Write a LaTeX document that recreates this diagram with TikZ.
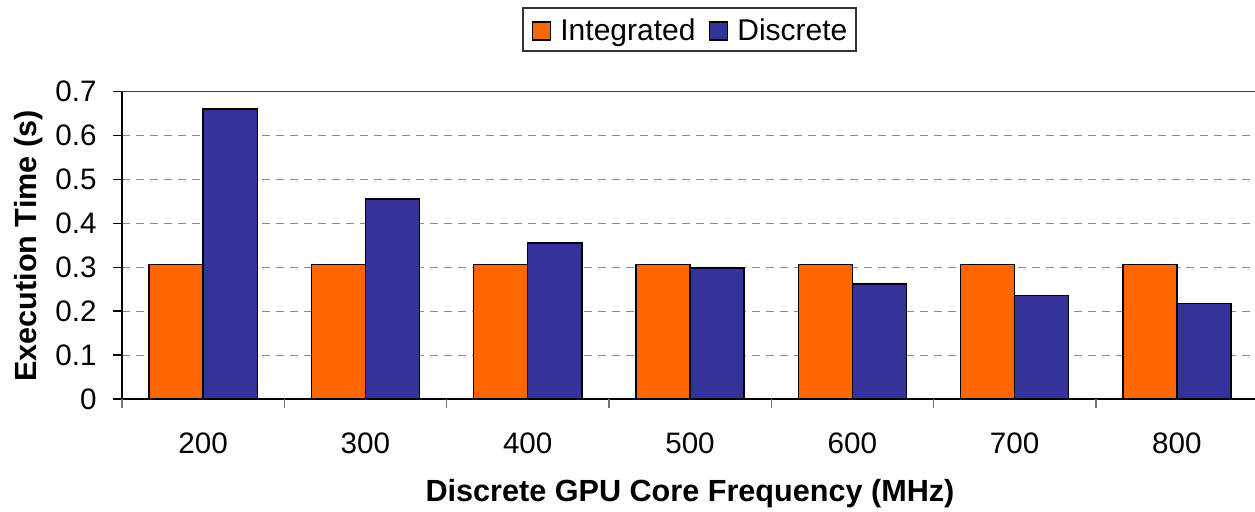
\documentclass[tikz,border=0pt]{standalone}
\usepackage{fontspec}
\setmainfont{Liberation Sans}
\usetikzlibrary{positioning}
\definecolor{integorange}{HTML}{FF6600}
\definecolor{discblue}{HTML}{333399}
\definecolor{gridgray}{HTML}{8C8C8C}

\begin{document}
\begin{tikzpicture}[x=0.5pt,y=-0.5pt,
  bar/.style={draw=black,line width=0.7pt},
  grid line/.style={draw=gridgray,dash pattern=on 4pt off 3pt,line width=0.5pt},
  ticklabel/.style={font=\fontsize{14.8}{17}\selectfont,inner sep=0pt},
  axistitle/.style={font=\bfseries\fontsize{15.3}{18}\selectfont,inner sep=0pt},
  legsq/.style={draw=black,line width=0.7pt,minimum size=9pt,inner sep=0pt},
  legtext/.style={font=\fontsize{15}{17}\selectfont,inner sep=0pt}]
\useasboundingbox (0,0) rectangle (1255,512);

% gridlines and top frame
\foreach \g in {1,...,6}
  \draw[grid line] (122,{399-\g*43.9}) -- (1255,{399-\g*43.9});
\draw[black!75,line width=0.6pt] (122,91.7) -- (1255,91.7);

% bars
\foreach \i/\a/\b in {0/0.306/0.661,1/0.306/0.456,2/0.306/0.355,3/0.306/0.298,
                      4/0.306/0.262,5/0.306/0.236,6/0.306/0.218}
{
  \draw[bar,fill=integorange] ({122+\i*162.3+27},399) rectangle ++(54.1,{-\a*439});
  \draw[bar,fill=discblue] ({122+\i*162.3+81.1},399) rectangle ++(54.1,{-\b*439});
}

% axes
\draw[line width=0.7pt] (122,91.7) -- (122,399) -- (1255,399);
\foreach \g in {0,...,7}
  \draw[line width=0.7pt] (113,{399-\g*43.9}) -- (122,{399-\g*43.9});
\foreach \i in {0,...,6}
  \draw[black!55,line width=0.7pt] ({122+\i*162.3},399) -- ++(0,9);

% tick labels
\foreach \g/\t in {0/0,1/0.1,2/0.2,3/0.3,4/0.4,5/0.5,6/0.6,7/0.7}
  \node[ticklabel,anchor=east] (ylab\g) at (97,{399-\g*43.9}) {\t};
\foreach \i/\f in {0/200,1/300,2/400,3/500,4/600,5/700,6/800}
  \node[ticklabel] (xlab\i) at ({122+\i*162.3+81.1},443) {\f};

% axis titles
\node[axistitle,rotate=90] (ytitle) at (29,246) {Execution Time (s)};
\node[axistitle] (xtitle) at (690,494) {Discrete GPU Core Frequency (MHz)};

% legend
\draw[black!80,line width=0.6pt] (523,8) rectangle (856,51);
\node[legsq,fill=integorange] (intsq) at (541.5,31) {};
\node[legtext,anchor=base west] (intlabel) at (560,41) {Integrated};
\node[legsq,fill=discblue] (discsq) at (718.5,31) {};
\node[legtext,anchor=base west] (disclabel) at (737,41) {Discrete};
\end{tikzpicture}
\end{document}
